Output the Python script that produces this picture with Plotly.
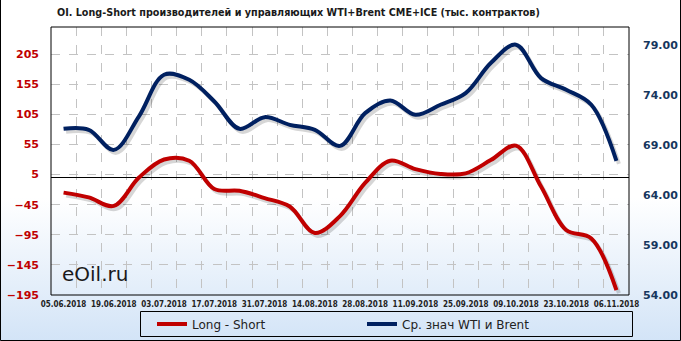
import base64
import plotly.graph_objects as go

# ---- data ----
dates = ["05.06.2018", "12.06.2018", "19.06.2018", "26.06.2018", "03.07.2018", "10.07.2018",
         "17.07.2018", "24.07.2018", "31.07.2018", "07.08.2018", "14.08.2018", "21.08.2018",
         "28.08.2018", "04.09.2018", "11.09.2018", "18.09.2018", "25.09.2018", "02.10.2018",
         "09.10.2018", "16.10.2018", "23.10.2018", "30.10.2018", "06.11.2018"]
long_short = [-25, -33, -47, 0, 30, 28, -19, -22, -34, -48, -92, -64, -9, 28, 14, 6, 7,
              29, 53, -15, -87, -101, -187]
wti_brent = [70.65, 70.55, 68.54, 71.9, 76.07, 75.56, 73.39, 70.65, 71.82, 71.05, 70.55,
             68.94, 72.22, 73.49, 72.05, 73.06, 74.23, 77.24, 79.08, 75.73, 74.56, 73.06, 67.44]
left_ticks = [-195, -145, -95, -45, 5, 55, 105, 155, 205]
right_ticks = [54, 59, 64, 69, 74, 79]

name_ls = "Long - Short"
name_px = "Ср. знач WTI и Brent"
title = "OI. Long-Short производителей и управляющих WTI+Brent CME+ICE (тыс. контрактов)"

RED = "#c00000"
NAVY = "#002060"
NAVY_TXT = "#17375e"

W, H = 681, 341
L, R, T, B = 51, 52, 27, 46
PW, PH = W - L - R, H - T - B

def px_x(p):
    return (p - L) / PW

def px_y(p):
    return (H - B - p) / PH

idx = list(range(len(dates)))
label_idx = idx[::2]
label_txt = dates[::2]

YL = [-195, 250]
YR = [54, 80.85]
sh_dx = 2.5 / (PW / len(dates))
sh_dyl = 3 * (YL[1] - YL[0]) / PH
sh_dyr = 3 * (YR[1] - YR[0]) / PH

fig = go.Figure()
shadow = dict(color="rgba(0,0,0,0.16)", width=4, shape="spline", smoothing=1.0)
fig.add_trace(go.Scatter(x=[i + sh_dx for i in idx], y=[v - sh_dyl for v in long_short],
                         mode="lines", line=shadow, showlegend=False, hoverinfo="skip"))
fig.add_trace(go.Scatter(x=[i + sh_dx for i in idx], y=[v - sh_dyr for v in wti_brent],
                         mode="lines", line=shadow, showlegend=False, hoverinfo="skip",
                         yaxis="y2"))
fig.add_trace(go.Scatter(x=idx, y=long_short, name=name_ls, mode="lines",
                         line=dict(color=RED, width=4, shape="spline", smoothing=1.0)))
fig.add_trace(go.Scatter(x=idx, y=wti_brent, name=name_px, mode="lines", yaxis="y2",
                         line=dict(color=NAVY, width=4, shape="spline", smoothing=1.0)))

svg = ('<svg xmlns="http://www.w3.org/2000/svg" width="681" height="341" preserveAspectRatio="none">'
       '<defs><linearGradient id="g" x1="0" y1="0" x2="0" y2="1">'
       '<stop offset="0" stop-color="#ffffff"/><stop offset="0.58" stop-color="#ffffff"/>'
       '<stop offset="1" stop-color="#d3e4f7"/></linearGradient></defs>'
       '<rect width="681" height="341" fill="url(#g)"/></svg>')
src = "data:image/svg+xml;base64," + base64.b64encode(svg.encode()).decode()

grid = "#c3c3c3"
fig.update_layout(
    width=W, height=H,
    margin=dict(l=L, r=R, t=T, b=B, pad=0, autoexpand=False),
    paper_bgcolor="white", plot_bgcolor="rgba(0,0,0,0)",
    font=dict(family="DejaVu Sans", size=12, color="#222222"),
    title=dict(text=title, x=px_x(57), xref="paper", xanchor="left",
               y=1 - 12 / H, yref="container", yanchor="middle",
               font=dict(family="DejaVu Sans Condensed, DejaVu Sans", size=10.7, weight="bold",
                         color="#1a1a1a")),
    xaxis=dict(range=[-0.5, len(dates) - 0.5], tickmode="array", tickvals=label_idx,
               ticktext=label_txt, showgrid=False, zeroline=False, ticks="",
               tickfont=dict(family="DejaVu Sans Condensed, DejaVu Sans", size=8,
                             weight="bold", color="#222222"),
               ticklabelstandoff=3,
               minor=dict(tickmode="linear", tick0=0.5, dtick=1, showgrid=True,
                          gridcolor=grid, griddash="dash", gridwidth=1, ticks="")),
    yaxis=dict(range=YL, tickmode="array", tickvals=left_ticks, showgrid=True,
               gridcolor=grid, griddash="dash", gridwidth=1, zeroline=True,
               zerolinecolor="black", zerolinewidth=1, ticks="",
               tickfont=dict(family="DejaVu Sans", size=11, weight="bold", color=RED),
               ticklabelstandoff=11),
    yaxis2=dict(range=YR, overlaying="y", side="right", tickmode="array",
                tickvals=right_ticks, tickformat=".2f", showgrid=False, zeroline=False,
                ticks="", ticklabelstandoff=13,
                tickfont=dict(family="DejaVu Sans", size=11, weight="bold", color=NAVY_TXT)),
    showlegend=True,
    legend=dict(orientation="h", x=px_x(152), xanchor="left", y=px_y(324), yanchor="middle",
                bgcolor="rgba(0,0,0,0)", borderwidth=0, entrywidth=165,
                entrywidthmode="pixels", itemwidth=30,
                font=dict(family="DejaVu Sans", size=12, color="#222222")),
    images=[dict(source=src, xref="paper", yref="paper", x=px_x(0), y=px_y(0),
                 sizex=W / PW, sizey=H / PH, xanchor="left", yanchor="top",
                 sizing="stretch", layer="below")],
    shapes=[
        dict(type="rect", xref="paper", yref="paper", x0=0, x1=1, y0=0, y1=1,
             line=dict(color="black", width=1), layer="above"),
        dict(type="rect", xref="paper", yref="paper", x0=px_x(140.5), x1=px_x(632.5),
             y0=px_y(336.5), y1=px_y(311.5), line=dict(color="black", width=1)),
        dict(type="path", xref="paper", yref="paper",
             path=f"M {px_x(0.5)} {px_y(0)} L {px_x(0.5)} {px_y(340.5)} "
                  f"L {px_x(680.5)} {px_y(340.5)} L {px_x(680.5)} {px_y(0)}",
             line=dict(color="black", width=1)),
    ],
    annotations=[dict(text="eOil.ru", xref="paper", yref="paper", x=px_x(60), y=px_y(274),
                      xanchor="left", yanchor="middle", showarrow=False,
                      font=dict(family="DejaVu Sans", size=20, color="#1a1a1a"))],
)

fig.write_html("out.html")
